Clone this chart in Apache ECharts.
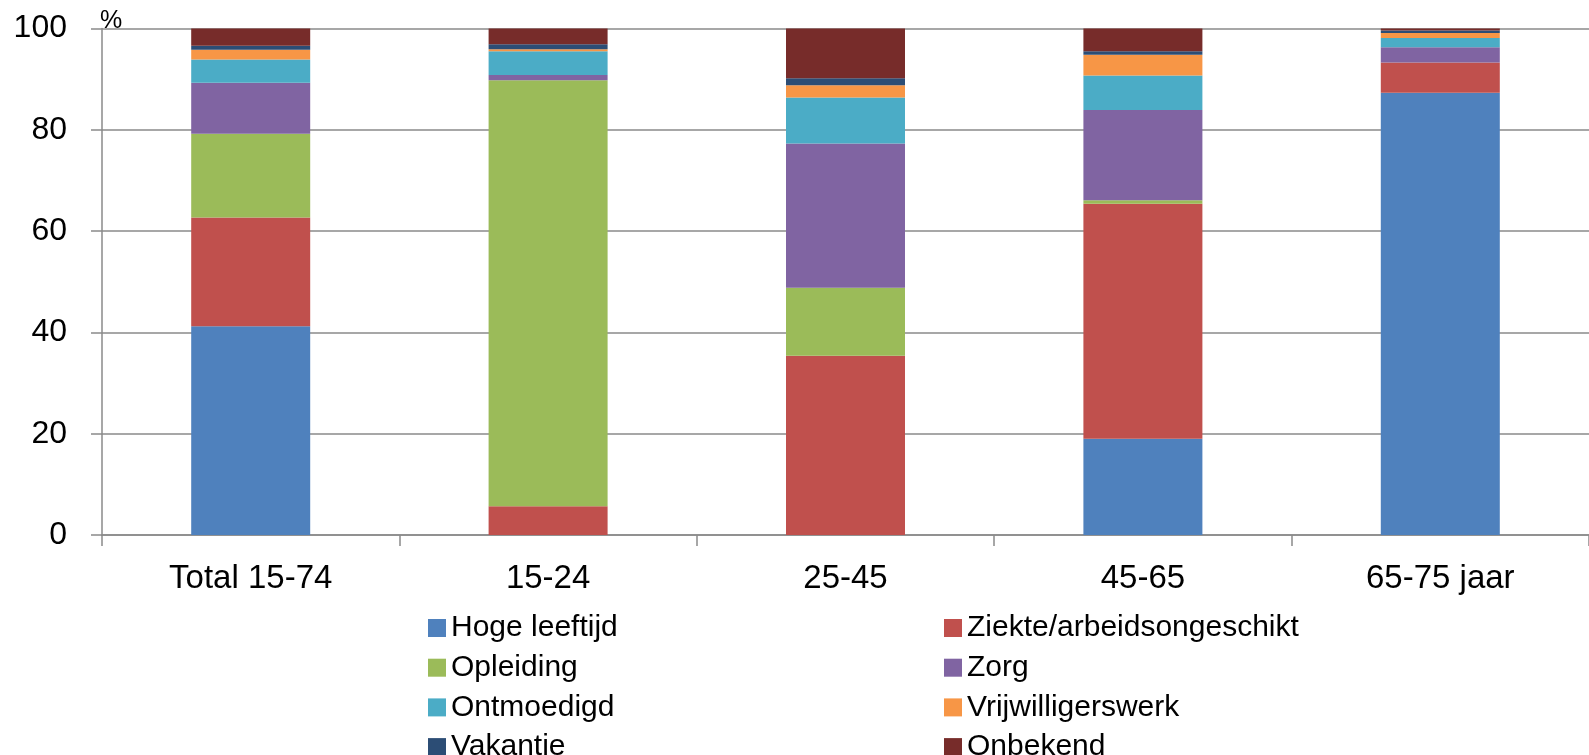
<!DOCTYPE html>
<html>
<head>
<meta charset="utf-8">
<script src="https://cdn.jsdelivr.net/npm/echarts@6/dist/echarts.min.js"></script>
<style>
html,body{margin:0;padding:0;background:#fff;}
#chart{width:1589px;height:755px;}
</style>
</head>
<body>
<div id="chart"></div>
<script>
const categories = ['Total 15-74', '15-24', '25-45', '45-65', '65-75 jaar'];
const yTicks = [0, 20, 40, 60, 80, 100];

const hogeLeeftijd = [41.2, 0, 0, 19.0, 87.3];
const ziekte       = [21.5, 5.7, 35.4, 46.4, 6.0];
const opleiding    = [16.5, 84.1, 13.4, 0.7, 0];
const zorg         = [10.1, 1.0, 28.5, 17.8, 3.0];
const ontmoedigd   = [4.6, 4.7, 9.1, 6.8, 1.8];
const vrijwilligers= [1.9, 0.4, 2.4, 4.1, 1.0];
const vakantie     = [0.8, 1.0, 1.4, 0.7, 0.5];
const onbekend     = [3.4, 3.1, 9.8, 4.7, 0.4];

const seriesNames = ['Hoge leeftijd', 'Ziekte/arbeidsongeschikt', 'Opleiding', 'Zorg',
                     'Ontmoedigd', 'Vrijwilligerswerk', 'Vakantie', 'Onbekend'];
const seriesData = [hogeLeeftijd, ziekte, opleiding, zorg, ontmoedigd, vrijwilligers, vakantie, onbekend];
const colors = ['#4F81BD', '#C0504D', '#9BBB59', '#8064A2', '#4BACC6', '#F79646', '#2C4D75', '#772C2A'];

const font = '"Liberation Sans", Arial, sans-serif';
const gridColor = '#8a8a8a';

const chart = echarts.init(document.getElementById('chart'), null, {renderer: 'canvas'});

const legendCommon = {
  orient: 'vertical',
  icon: 'rect',
  itemWidth: 18,
  itemHeight: 18,
  itemGap: 9.7,
  top: 613,
  height: 200,
  padding: 0,
  selectedMode: false,
  textStyle: {fontFamily: font, fontSize: 30, color: '#000'}
};

chart.setOption({
  animation: false,
  color: colors,
  textStyle: {fontFamily: font},
  grid: {left: 102, top: 28.5, width: 1492, height: 506.5, containLabel: false},
  legend: [
    Object.assign({}, legendCommon, {left: 428, data: [seriesNames[0], seriesNames[2], seriesNames[4], seriesNames[6]]}),
    Object.assign({}, legendCommon, {left: 944, data: [seriesNames[1], seriesNames[3], seriesNames[5], seriesNames[7]]})
  ],
  xAxis: {
    type: 'category',
    data: categories,
    axisLine: {show: true, lineStyle: {color: gridColor, width: 1.5}},
    axisTick: {show: true, length: 11, lineStyle: {color: gridColor, width: 1.5}},
    axisLabel: {fontFamily: font, fontSize: 33, color: '#000', margin: 27}
  },
  yAxis: {
    type: 'value',
    min: yTicks[0],
    max: yTicks[yTicks.length - 1],
    interval: yTicks[1] - yTicks[0],
    name: '%',
    nameLocation: 'end',
    nameGap: 0,
    nameTextStyle: {fontFamily: font, fontSize: 25, color: '#000', padding: [0, 0, -5, 18]},
    axisLine: {show: true, lineStyle: {color: gridColor, width: 1.5}},
    axisTick: {show: true, length: 11, lineStyle: {color: gridColor, width: 1.5}},
    axisLabel: {fontFamily: font, fontSize: 32, color: '#000', margin: 35},
    splitLine: {show: true, lineStyle: {color: gridColor, width: 1.5}}
  },
  series: seriesNames.map((name, i) => ({
    name: name,
    type: 'bar',
    stack: 'total',
    barWidth: 119,
    data: seriesData[i],
    itemStyle: {color: colors[i]}
  }))
});
</script>
</body>
</html>
